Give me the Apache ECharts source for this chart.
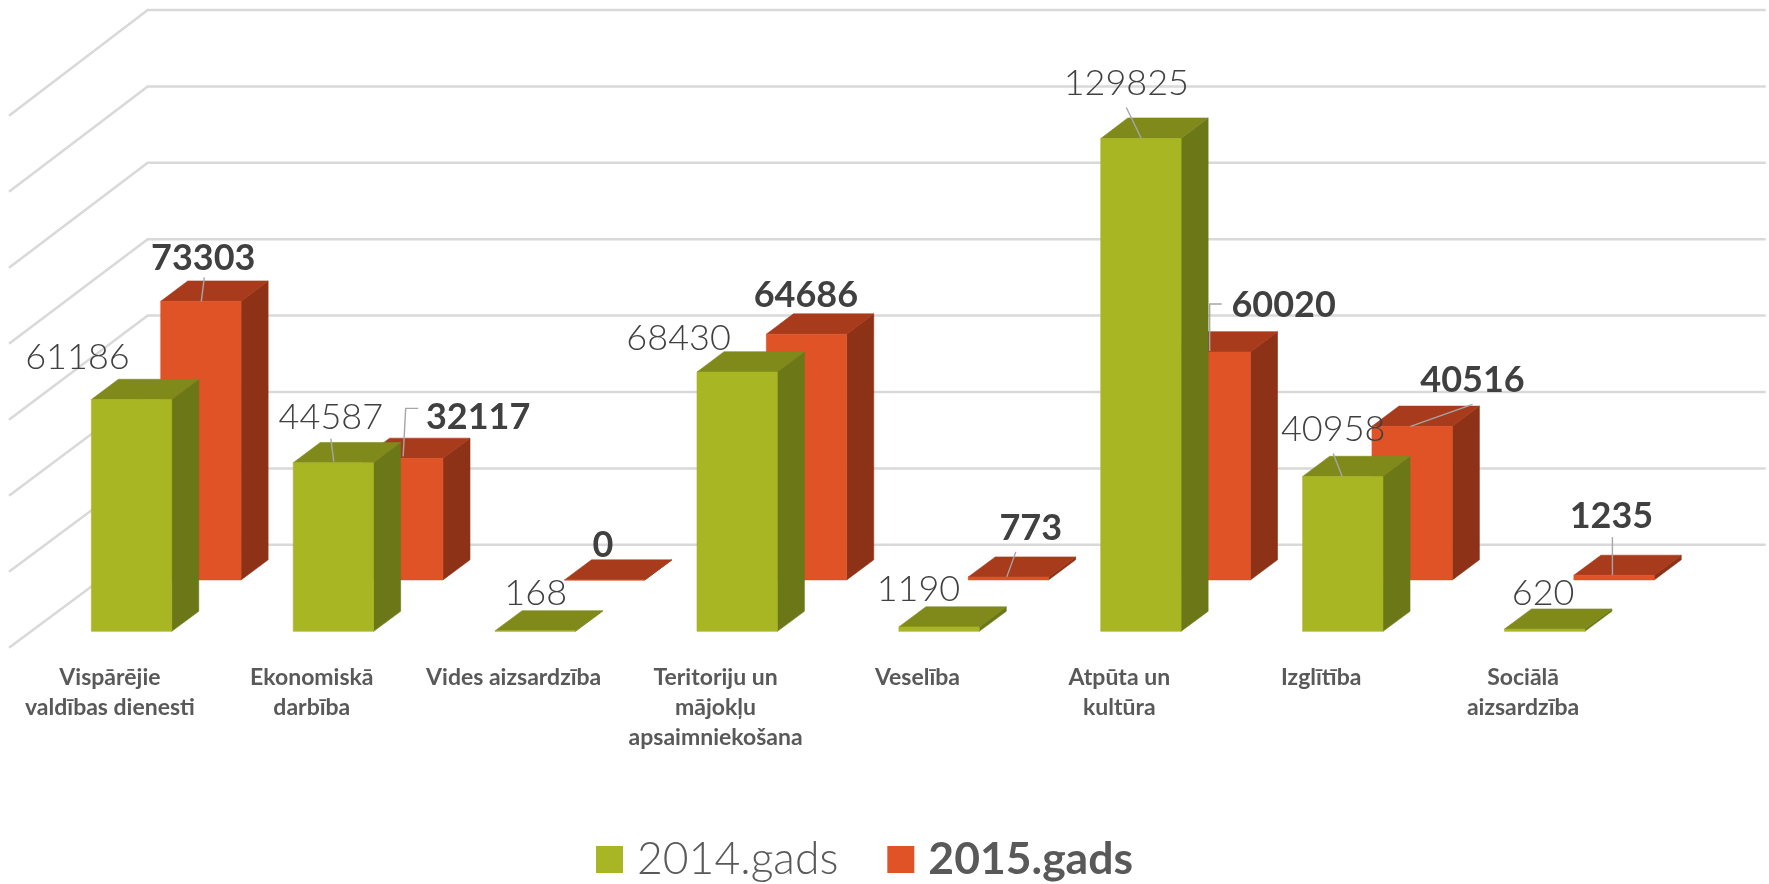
<!DOCTYPE html>
<html><head><meta charset="utf-8">
<style>html,body{margin:0;padding:0;background:#fff}#c{width:1769px;height:884px}</style>
<script src="https://cdn.jsdelivr.net/npm/echarts@6/dist/echarts.min.js"></script>
</head><body><div id="c"></div>
<script>
const categories = ['Vispārējie\nvaldības dienesti','Ekonomiskā\ndarbība','Vides aizsardzība','Teritoriju un\nmājokļu\napsaimniekošana','Veselība','Atpūta un\nkultūra','Izglītība','Sociālā\naizsardzība'];
const values2014 = [61186,44587,168,68430,1190,129825,40958,620];
const values2015 = [73303,32117,0,64686,773,60020,40516,1235];
const gridValues = [0,20000,40000,60000,80000,100000,120000,140000];

// label placement relative to the top-front centre of each bar (style only)
const labelOffset2014 = [[-54.5,-42],[-3,-45],[0,-38],[-59,-34],[-21,-38],[-15,-55],[-10,-47],[-2,-37]];
const labelOffset2015 = [[2,-43],[75,-41],[-2,-35],[-1,-39],[22,-49],[73,-47],[60,-46],[-3,-60]];
const leader2014 = [null,[[-3,-24],[0,-1]],null,null,null,[[-15,-31],[0,0]],[[-10,-23],[-1,0]],null];
const leader2015 = [[[3,-24],[0,0]],[[0,-2],[2.5,-50],[15,-50]],null,null,[[7,-26],[-2,-1]],[[-1,-1],[-1,-48],[11,-48]],[[-2,0],[60,-22]],[[-2,-39],[-2,-1]]];

const DEPTH_X = 138.7, DEPTH_Y = 102.9, DEPTH_SKEW = 0.0053;
const BAR_DEPTH = 0.195, BAR_WIDTH_RATIO = 0.398, BASE_LIFT = 0.9;
const FONT = 'Lato, "Open Sans", sans-serif';
const styles = {
  s2014:{front:'#A8B624',side:'#6C7717',top:'#7F8A1B',depth:0.15},
  s2015:{front:'#DF5327',side:'#8E3217',top:'#A73B1B',depth:0.65}
};

function project(p, y0, d){ return [p[0]+d*DEPTH_X, p[1]-d*(DEPTH_Y+(y0-p[1])*DEPTH_SKEW)]; }

function barRender(st){
  return function(params, api){
    const v = api.value(1);
    const c = api.coord([api.value(0), v]);
    const b = api.coord([api.value(0), 0]);
    const w = api.size([1,0])[0]*BAR_WIDTH_RATIO;
    const y0 = b[1];
    const cx = c[0]+0.8;
    const d1 = st.depth, d2 = st.depth+BAR_DEPTH;
    const topLift = BASE_LIFT*(1-Math.min(1,v/20000));
    const P = (x,y,d,lift)=>{const q=project([x,y],y0,d);return [q[0],q[1]-lift];};
    const l=cx-w/2, r=cx+w/2, yb=b[1], yt=c[1];
    const poly=(pts,fill)=>({type:'polygon',shape:{points:pts},style:{fill:fill,stroke:fill,lineWidth:0.6}});
    return {type:'group',children:[
      poly([P(r,yb,d1,BASE_LIFT),P(r,yb,d2,BASE_LIFT),P(r,yt,d2,topLift),P(r,yt,d1,topLift)],st.side),
      poly([P(l,yt,d1,topLift),P(r,yt,d1,topLift),P(r,yt,d2,topLift),P(l,yt,d2,topLift)],st.top),
      poly([P(l,yb,d1,BASE_LIFT),P(r,yb,d1,BASE_LIFT),P(r,yt,d1,topLift),P(l,yt,d1,topLift)],st.front)
    ]};
  };
}
function labelRender(st, offsets, leaders, weight){
  return function(params, api){
    const i = params.dataIndex, v = api.value(1);
    const c = api.coord([api.value(0), v]);
    const b = api.coord([api.value(0), 0]);
    const p = project([c[0]+1.2,c[1]],b[1],st.depth);
    const o = offsets[i], ch=[];
    if(leaders[i]) ch.push({type:'polyline',shape:{points:leaders[i].map(q=>[p[0]+q[0],p[1]+q[1]])},
      style:{stroke:'#A6A6A6',fill:null,lineWidth:1.4}});
    ch.push({type:'text',style:{text:String(v),x:p[0]+o[0],y:p[1]+o[1],textAlign:'center',textVerticalAlign:'middle',
      font:weight+' 36px '+FONT,fill:'#404040'}});
    return {type:'group',children:ch};
  };
}
function gridRender(params, api){
  const cs = params.coordSys;
  const c = api.coord([0, api.value(0)]);
  const b = api.coord([0, 0]);
  const a=[cs.x,c[1]], m=project(a,b[1],1), e=[cs.x+cs.width+DEPTH_X+3,m[1]];
  return {type:'polyline',shape:{points:[a,m,e]},style:{stroke:'#D9D9D9',fill:null,lineWidth:2.5}};
}
const chart = echarts.init(document.getElementById('c'),null,{renderer:'canvas'});
chart.setOption({
  animation:false,
  backgroundColor:'#fff',
  grid:{left:9,top:115.7,width:1615,height:532,containLabel:false},
  xAxis:{type:'category',data:categories,axisLine:{show:false},axisTick:{show:false},
    axisLabel:{interval:0,margin:15,fontFamily:FONT,fontWeight:'bold',fontSize:23,lineHeight:30,color:'#595959',align:'center'}},
  yAxis:{type:'value',min:0,max:140000,interval:20000,axisLine:{show:false},axisTick:{show:false},axisLabel:{show:false},splitLine:{show:false}},
  legend:{left:591,top:832,itemWidth:27,itemHeight:27,itemGap:49,icon:'rect',
    textStyle:{fontFamily:FONT,fontSize:44.5,color:'#595959',padding:[0,0,0,9]},
    data:[{name:'2014.gads',textStyle:{fontWeight:300}},{name:'2015.gads',textStyle:{fontWeight:'bold'}}]},
  series:[
    {type:'custom',name:'grid',data:gridValues.map(v=>[v]),encode:{y:0},renderItem:gridRender,silent:true,clip:false,z:1},
    {type:'custom',name:'2015.gads',data:values2015.map((v,i)=>[i,v]),encode:{x:0,y:1},renderItem:barRender(styles.s2015),itemStyle:{color:styles.s2015.front},clip:false,z:2},
    {type:'custom',name:'2014.gads',data:values2014.map((v,i)=>[i,v]),encode:{x:0,y:1},renderItem:barRender(styles.s2014),itemStyle:{color:styles.s2014.front},clip:false,z:3},
    {type:'custom',name:'labels2015',data:values2015.map((v,i)=>[i,v]),encode:{x:0,y:1},renderItem:labelRender(styles.s2015,labelOffset2015,leader2015,'bold'),silent:true,clip:false,z:4},
    {type:'custom',name:'labels2014',data:values2014.map((v,i)=>[i,v]),encode:{x:0,y:1},renderItem:labelRender(styles.s2014,labelOffset2014,leader2014,'300'),silent:true,clip:false,z:4}
  ]
});
</script></body></html>
